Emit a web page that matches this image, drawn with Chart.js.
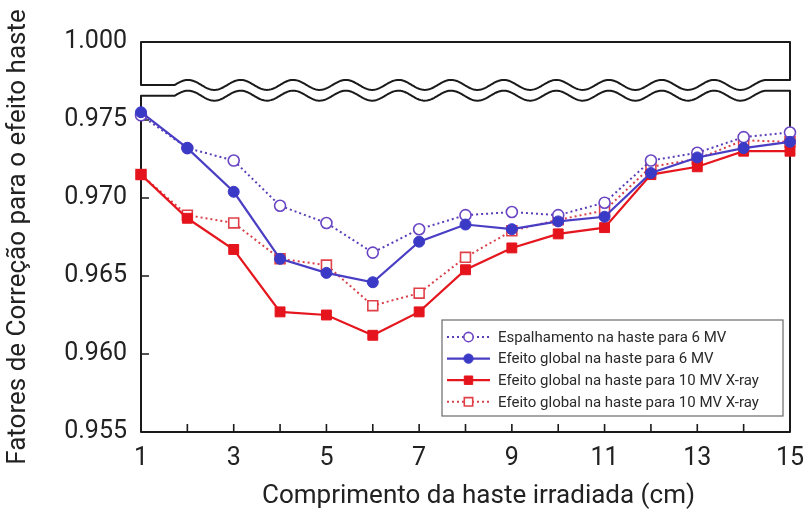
<!DOCTYPE html>
<html>
<head>
<meta charset="utf-8">
<script src="https://cdn.jsdelivr.net/npm/chart.js@4.4.1/dist/chart.umd.min.js"></script>
<style>
  html, body { margin: 0; padding: 0; background: #ffffff; }
  #wrap { width: 805px; height: 514px; position: relative; }
</style>
</head>
<body>
<div id="wrap"><canvas id="c" width="805" height="514"></canvas></div>
<script>
// Irradiated stem length (cm)
const lengthsCm = [1, 2, 3, 4, 5, 6, 7, 8, 9, 10, 11, 12, 13, 14, 15];

// Stem correction factors
const scatter6MV    = [0.9753, 0.9732, 0.9724, 0.9695, 0.9684, 0.9665, 0.9680, 0.9689, 0.9691, 0.9689, 0.9697, 0.9724, 0.9729, 0.9739, 0.9742];
const global6MV     = [0.9755, 0.9732, 0.9704, 0.9661, 0.9652, 0.9646, 0.9672, 0.9683, 0.9680, 0.9685, 0.9688, 0.9716, 0.9726, 0.9732, 0.9736];
const global10MV    = [0.9715, 0.9687, 0.9667, 0.9627, 0.9625, 0.9612, 0.9627, 0.9654, 0.9668, 0.9677, 0.9681, 0.9715, 0.9720, 0.9730, 0.9730];
const global10MVAlt = [0.9715, 0.9689, 0.9684, 0.9661, 0.9657, 0.9631, 0.9639, 0.9662, 0.9679, 0.9686, 0.9692, 0.9720, 0.9725, 0.9737, 0.9736];

const seriesNames = [
  'Espalhamento na haste para 6 MV',
  'Efeito global na haste para 6 MV',
  'Efeito global na haste para 10 MV X-ray',
  'Efeito global na haste para 10 MV X-ray'
];

// Axis tick labels (the top tick stands for the value above the axis break)
const yTickLabels = ['0.955', '0.960', '0.965', '0.970', '0.975', '1.000'];
const xTickLabels = ['1', '3', '5', '7', '9', '11', '13', '15'];

const yTitle = 'Fatores de Correção para o efeito haste';
const xTitle = 'Comprimento da haste irradiada (cm)';

// Axis break band (scale values)
const breakUpper = 0.97725;
const breakLower = 0.97656;

const FONT = 'Roboto, "Liberation Sans", sans-serif';
const INK = '#222222';

const toPoints = arr => arr.map((v, i) => ({ x: lengthsCm[i], y: v }));

const datasets = [
  {
    label: seriesNames[0], data: toPoints(scatter6MV),
    borderColor: '#5a3db8', borderWidth: 2, borderDash: [2, 3],
    pointStyle: 'circle', pointRadius: 5.5, pointBorderWidth: 1.6,
    pointBackgroundColor: '#ffffff', pointBorderColor: '#6a45c4',
    order: 3
  },
  {
    label: seriesNames[1], data: toPoints(global6MV),
    borderColor: '#4a3ec4', borderWidth: 2.2,
    pointStyle: 'circle', pointRadius: 5.5, pointBorderWidth: 1,
    pointBackgroundColor: '#3b3ac6', pointBorderColor: '#3b3ac6',
    order: 1
  },
  {
    label: seriesNames[2], data: toPoints(global10MV),
    borderColor: '#e5161e', borderWidth: 2.2,
    pointStyle: 'rect', pointRadius: 7, pointBorderWidth: 1,
    pointBackgroundColor: '#e5141c', pointBorderColor: '#e5141c',
    order: 2
  },
  {
    label: seriesNames[3], data: toPoints(global10MVAlt),
    borderColor: '#d9404a', borderWidth: 2, borderDash: [2, 3],
    pointStyle: 'rect', pointRadius: 7, pointBorderWidth: 1.6,
    pointBackgroundColor: '#ffffff', pointBorderColor: '#e04048',
    order: 4
  }
];
datasets.forEach(d => { d.clip = false; d.tension = 0; d.fill = false; });

// Frame with a wavy axis break, plus inward tick marks
const framePlugin = {
  id: 'brokenFrame',
  beforeDatasetsDraw(chart) {
    const { ctx, chartArea: { left, right, top, bottom } } = chart;
    const xs = chart.scales.x, ys = chart.scales.y;
    const upper = ys.getPixelForValue(breakUpper);
    const lower = ys.getPixelForValue(breakLower);
    const ws = xs.getPixelForValue(1.73);
    const we = xs.getPixelForValue(14.5);
    const cycles = 11.25, amp = 5;
    const waveY = (base, x) => base - amp * Math.sin(2 * Math.PI * cycles * (x - ws) / (we - ws));

    ctx.save();
    ctx.strokeStyle = '#1a1a1a';
    ctx.lineWidth = 2;
    ctx.lineJoin = 'round';

    // upper box
    ctx.beginPath();
    ctx.moveTo(left, upper);
    ctx.lineTo(ws, upper);
    for (let x = ws; x <= we; x += 1) ctx.lineTo(x, waveY(upper, x));
    ctx.lineTo(we, waveY(upper, we));
    ctx.lineTo(right, waveY(upper, we));
    ctx.lineTo(right, top);
    ctx.lineTo(left, top);
    ctx.closePath();
    ctx.stroke();

    // lower box
    ctx.beginPath();
    ctx.moveTo(left, bottom);
    ctx.lineTo(left, lower);
    ctx.lineTo(ws, lower);
    for (let x = ws; x <= we; x += 1) ctx.lineTo(x, waveY(lower, x));
    ctx.lineTo(we, waveY(lower, we));
    ctx.lineTo(right, waveY(lower, we));
    ctx.lineTo(right, bottom);
    ctx.closePath();
    ctx.stroke();

    // inward tick marks
    ctx.lineWidth = 1.6;
    ctx.beginPath();
    ys.ticks.forEach(t => {
      if (t.value > ys.min + 1e-6 && t.value < breakLower) {
        const y = ys.getPixelForValue(t.value);
        ctx.moveTo(left, y); ctx.lineTo(left + 8, y);
      }
    });
    xs.ticks.forEach(t => {
      if (t.value > xs.min && t.value < xs.max) {
        const x = xs.getPixelForValue(t.value);
        ctx.moveTo(x, bottom); ctx.lineTo(x, bottom - 8);
      }
    });
    ctx.stroke();
    ctx.restore();
  },
  afterDraw(chart) {
    const { ctx, chartArea: { left, right, top, bottom } } = chart;
    ctx.save();

    // x-axis title
    ctx.fillStyle = INK;
    ctx.font = '26px ' + FONT;
    ctx.textAlign = 'center';
    ctx.textBaseline = 'middle';
    ctx.fillText(xTitle, (left + right) / 2 + 13, 496);

    // legend box
    const bx = right - 348, by = bottom - 112, bw = 341, bh = 96;
    ctx.fillStyle = '#ffffff';
    ctx.fillRect(bx, by, bw, bh);
    ctx.strokeStyle = '#6a6a6a';
    ctx.lineWidth = 1.2;
    ctx.strokeRect(bx, by, bw, bh);

    const rowH = 21.6;
    chart.data.datasets.forEach((ds, i) => {
      const cy = by + 17 + i * rowH;
      const x0 = bx + 5, x1 = bx + 48, mx = (x0 + x1) / 2;
      ctx.save();
      ctx.strokeStyle = ds.borderColor;
      ctx.lineWidth = ds.borderWidth;
      ctx.setLineDash(ds.borderDash || []);
      ctx.beginPath();
      ctx.moveTo(x0, cy); ctx.lineTo(x1, cy);
      ctx.stroke();
      ctx.setLineDash([]);
      ctx.fillStyle = ds.pointBackgroundColor;
      ctx.strokeStyle = ds.pointBorderColor;
      ctx.lineWidth = ds.pointBorderWidth;
      Chart.helpers.drawPoint(ctx, {
        pointStyle: ds.pointStyle, rotation: 0,
        radius: ds.pointRadius * 0.85, borderWidth: ds.pointBorderWidth
      }, mx, cy);
      ctx.restore();

      ctx.fillStyle = '#2a2a2a';
      ctx.font = '15px ' + FONT;
      ctx.textAlign = 'left';
      ctx.textBaseline = 'middle';
      ctx.fillText(ds.label, bx + 56, cy + 1);
    });
    ctx.restore();
  }
};

new Chart(document.getElementById('c'), {
  type: 'line',
  data: { datasets },
  plugins: [framePlugin],
  options: {
    responsive: false,
    animation: false,
    devicePixelRatio: 1,
    layout: { padding: { top: 42, right: 15, left: 0, bottom: 0 } },
    plugins: { legend: { display: false }, tooltip: { enabled: false } },
    scales: {
      x: {
        type: 'linear', min: 1, max: 15,
        grid: { display: false, drawTicks: false },
        border: { display: false },
        ticks: {
          stepSize: 1, autoSkip: false, maxRotation: 0,
          color: INK, font: { family: FONT, size: 25 }, padding: 12,
          callback: v => xTickLabels.includes(String(v)) ? String(v) : ''
        },
        afterFit: s => { s.height = 82; s.paddingLeft = 0; s.paddingRight = 0; }
      },
      y: {
        type: 'linear', min: 0.955, max: 0.980,
        grid: { display: false, drawTicks: false },
        border: { display: false },
        ticks: {
          stepSize: 0.005, color: INK, font: { family: FONT, size: 25 }, padding: 14,
          callback: (v, i) => yTickLabels[i]
        },
        title: {
          display: true, text: yTitle, color: INK,
          font: { family: FONT, size: 26 }, padding: { top: 3, bottom: 0 }
        },
        afterFit: s => { s.width = 141; s.paddingTop = 0; s.paddingBottom = 0; }
      }
    }
  }
});
</script>
</body>
</html>
